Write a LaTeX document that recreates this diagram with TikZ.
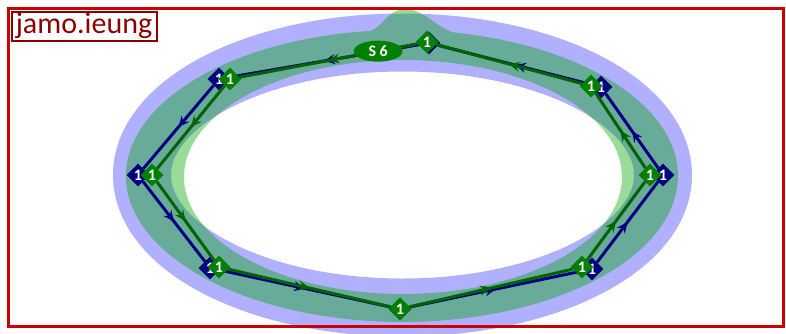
\documentclass[tikz,border=0pt]{standalone}
\usepackage{fontspec}
\setmainfont{Carlito}
\usetikzlibrary{shapes.geometric,arrows.meta,decorations.markings}
\definecolor{ringblue}{RGB}{176,176,255}
\definecolor{ringgreen}{RGB}{0,165,0}
\definecolor{linegreen}{RGB}{0,100,0}
\definecolor{nodegreen}{RGB}{0,128,0}
\definecolor{nodeblue}{RGB}{0,0,128}
\definecolor{framered}{RGB}{204,0,0}
\definecolor{titlered}{RGB}{139,0,0}

\begin{document}
\begin{tikzpicture}
  [x=1pt,y=-1pt,
   every node/.style={text=white,font=\bfseries\fontsize{16}{16}\selectfont,inner sep=0pt},
   gstate/.style={diamond,fill=nodegreen,minimum size=23pt},
   bstate/.style={diamond,fill=nodeblue,minimum size=23pt},
   sstate/.style={ellipse,fill=nodegreen,minimum width=49pt,minimum height=21pt},
   midarrow/.style={postaction={decorate},decoration={markings,
     mark=at position 0.5 with {\arrow{Stealth[length=11pt,width=10pt,inset=4pt]}}}},
   gedge/.style={draw=linegreen,line width=3pt,midarrow},
   bedge/.style={draw=nodeblue,line width=3pt,midarrow}]
  \useasboundingbox (0,0) rectangle (786,333);

  % the two rings
  \draw[ringblue,line width=58pt] (402.5,175) ellipse [x radius=260.5,y radius=132.5];
  \fill[ringgreen,fill opacity=0.4,even odd rule]
    (456,32.8) arc[start angle=281.3,end angle=623.3,x radius=276,y radius=146]
    .. controls (380,30) and (388,9) .. (405,9)
    .. controls (425,9) and (438,30) .. (456,32.8) -- cycle
    (403,177) ellipse [x radius=219,y radius=117];

  % blue cycle
  \node[bstate] (b1) at (429,43) {1};
  \node[bstate] (b2) at (219,79) {1};
  \node[bstate] (b3) at (138,175) {1};
  \node[bstate] (b4) at (210,268) {1};
  \node[bstate] (b5) at (400,309) {1};
  \node[bstate] (b6) at (592,269) {1};
  \node[bstate] (b7) at (663,175) {1};
  \node[bstate] (b8) at (601,87) {1};

  \foreach \from/\to in {b1/b2, b2/b3, b3/b4, b4/b5, b5/b6, b6/b7, b7/b8, b8/b1}
    \draw[bedge] (\from) -- (\to);

  % green cycle
  \node[gstate] (g1) at (427,42) {1};
  \node[gstate] (g2) at (230,79) {1};
  \node[gstate] (g3) at (152,175) {1};
  \node[gstate] (g4) at (219,267) {1};
  \node[gstate] (g5) at (400,309) {1};
  \node[gstate] (g6) at (582,267) {1};
  \node[gstate] (g7) at (650,175) {1};
  \node[gstate] (g8) at (591,86) {1};

  \draw[gedge] (g1) -- node[sstate,pos=0.22] (s6) {S 6} (g2);
  \foreach \from/\to in {g2/g3, g3/g4, g4/g5, g5/g6, g6/g7, g7/g8, g8/g1}
    \draw[gedge] (\from) -- (\to);

  % frame and title
  \draw[framered,line width=3pt] (8,8) rectangle (783,326);
  \node[draw=titlered,line width=2pt,text=titlered,font=\fontsize{30}{30}\selectfont,
        anchor=north west,minimum width=145pt,minimum height=29pt] (title) at (10.5,10.5) {jamo.ieung};
\end{tikzpicture}
\end{document}
